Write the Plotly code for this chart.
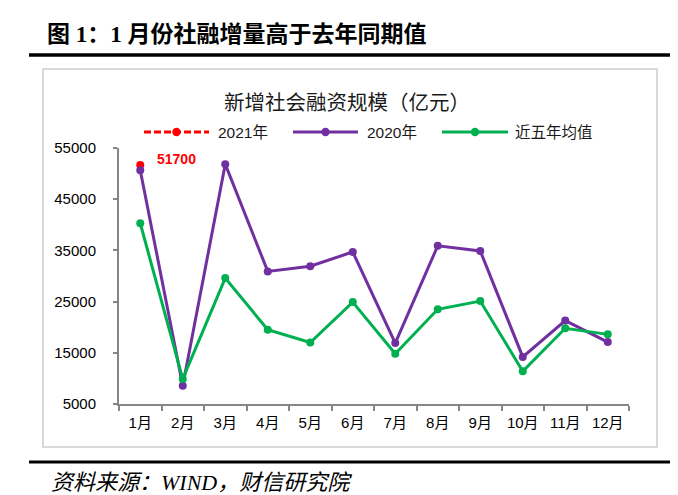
import plotly.graph_objects as go

months = ["1月", "2月", "3月", "4月", "5月", "6月", "7月", "8月", "9月", "10月", "11月", "12月"]
v2021 = [51700]
v2020 = [50668, 8554, 51844, 30900, 31900, 34700, 16900, 35900, 34900, 14200, 21300, 17100]
avg5 = [40300, 9900, 29600, 19500, 17000, 24900, 14800, 23500, 25100, 11400, 19800, 18600]
y_ticks = [5000, 15000, 25000, 35000, 45000, 55000]
series_names = ["2021年", "2020年", "近五年均值"]
series_colors = ["#FF0000", "#7030A0", "#00B050"]

W, H = 678, 495
L, R, T, B = 111, 57, 140, 99
pw, ph = W - L - R, H - T - B


def px(x):
    return (x - L) / pw


def py(y):
    return (H - B - y) / ph


cjk = "Noto Sans CJK SC"
num = "Liberation Sans, Noto Sans CJK SC"
serif = "Liberation Serif, Noto Sans CJK SC"

fig = go.Figure()
fig.add_trace(go.Scatter(x=months[:1], y=v2021, name=series_names[0], mode="lines+markers",
                         line=dict(color=series_colors[0], width=3, dash="7px,3px"),
                         marker=dict(color=series_colors[0], size=8)))
fig.add_trace(go.Scatter(x=months, y=v2020, name=series_names[1], mode="lines+markers",
                         line=dict(color=series_colors[1], width=3),
                         marker=dict(color=series_colors[1], size=8)))
fig.add_trace(go.Scatter(x=months, y=avg5, name=series_names[2], mode="lines+markers",
                         line=dict(color=series_colors[2], width=3),
                         marker=dict(color=series_colors[2], size=8)))

fig.add_annotation(x=months[0], y=v2021[0], text="<b>%d</b>" % v2021[0], showarrow=False,
                   xanchor="left", yanchor="middle", xshift=15, yshift=6,
                   font=dict(color="#FF0000", size=14, family="Liberation Sans"))

shapes = [
    dict(type="rect", xref="paper", yref="paper", x0=px(35), x1=px(649), y0=py(439), y1=py(61),
         line=dict(color="#D9D9D9", width=2), fillcolor="rgba(0,0,0,0)", layer="below"),
    dict(type="line", xref="paper", yref="paper", x0=px(21), x1=px(663), y0=py(47), y1=py(47),
         line=dict(color="#000000", width=3.5)),
    dict(type="line", xref="paper", yref="paper", x0=px(21), x1=px(663), y0=py(454), y1=py(454),
         line=dict(color="#000000", width=3)),
]

# custom legend (long line symbols like the original)
leg_y = 124
leg_items = [(136, 201, 208, "7px,3px"), (285, 350, 357, "solid"), (434, 500, 505, "solid")]
for (x0, x1, tx, dash), name, col in zip(leg_items, series_names, series_colors):
    shapes.append(dict(type="line", xref="paper", yref="paper", x0=px(x0), x1=px(x1),
                       y0=py(leg_y), y1=py(leg_y), line=dict(color=col, width=3, dash=dash)))
    cx = (x0 + x1) / 2
    shapes.append(dict(type="circle", xref="paper", yref="paper", x0=px(cx - 4.2), x1=px(cx + 4.2),
                       y0=py(leg_y + 4.2), y1=py(leg_y - 4.2), fillcolor=col, line=dict(width=0)))
    fig.add_annotation(xref="paper", yref="paper", x=px(tx), y=py(leg_y), xanchor="left",
                       yanchor="middle", text=name, showarrow=False,
                       font=dict(family=num, size=15.5, color="#1a1a1a"))

fig.add_annotation(xref="paper", yref="paper", x=px(37), y=py(26), xanchor="left", yanchor="middle",
                   text="<b>图 1：1 月份社融增量高于去年同期值</b>", showarrow=False,
                   font=dict(family=serif, size=23, color="#000000"))
fig.add_annotation(xref="paper", yref="paper", x=px(339), y=py(93), xanchor="center", yanchor="middle",
                   text="新增社会融资规模（亿元）", showarrow=False,
                   font=dict(family=cjk, size=20.5, color="#1a1a1a"))
fig.add_annotation(xref="paper", yref="paper", x=px(41), y=py(474), xanchor="left", yanchor="middle",
                   text="<i>资料来源：WIND，财信研究院</i>",
                   showarrow=False,
                   font=dict(family=serif, size=22, color="#000000"))

fig.update_layout(
    width=W, height=H,
    margin=dict(l=L, r=R, t=T, b=B),
    paper_bgcolor="white", plot_bgcolor="white",
    shapes=shapes,
    showlegend=False,
    xaxis=dict(type="category", categoryorder="array", categoryarray=months,
               range=[-0.5, 11.5], showgrid=False, showline=True, linecolor="#868686", linewidth=2,
               ticks="outside", tickson="boundaries", ticklen=5, tickcolor="#868686", tickwidth=2,
               ticklabelstandoff=4,
               tickfont=dict(family=num, size=15, color="#000000")),
    yaxis=dict(range=[5000, 55000], tickvals=y_ticks, ticktext=[str(v) for v in y_ticks],
               showgrid=False, showline=True, linecolor="#868686", linewidth=2, zeroline=False,
               ticks="outside", ticklen=4, tickcolor="#868686", tickwidth=2,
               ticklabelstandoff=14,
               tickfont=dict(family="Liberation Sans", size=15, color="#000000")),
)

fig.write_html("out.html")
